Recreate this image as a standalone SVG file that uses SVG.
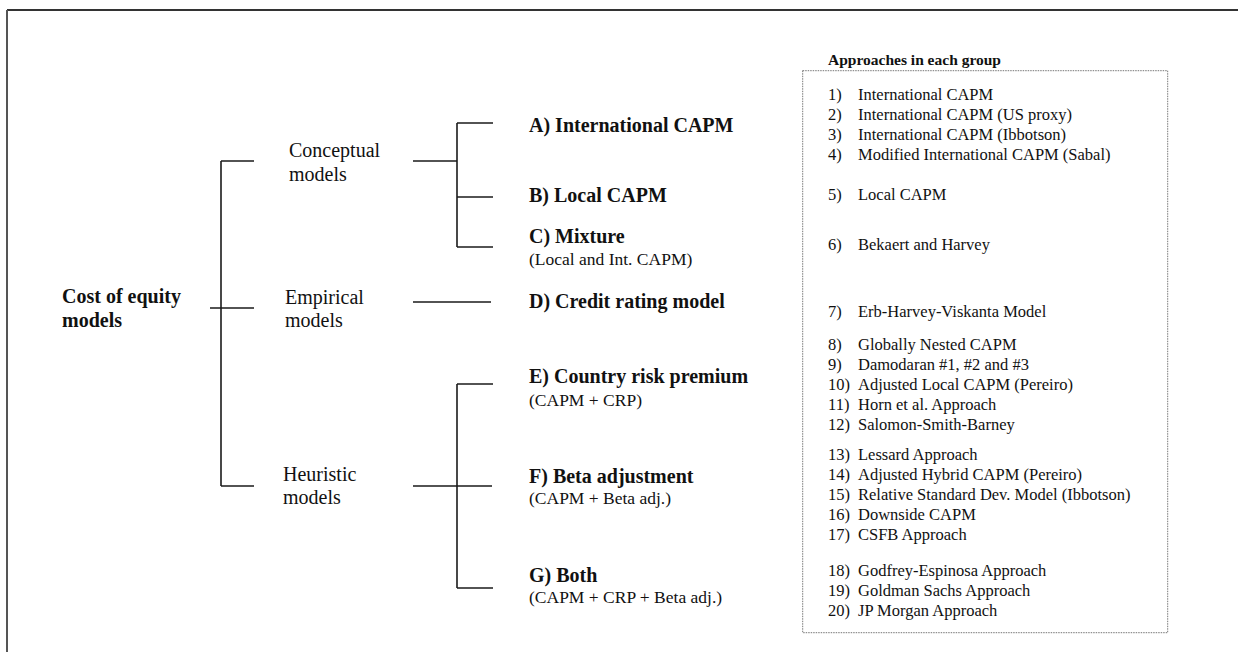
<svg xmlns="http://www.w3.org/2000/svg" width="1238" height="652" viewBox="0 0 1238 652">
<style>
  text { font-family: "Liberation Serif", "Times New Roman", serif; fill: #111; }
  .root { font-size: 20px; font-weight: bold; }
  .grp { font-size: 20px; }
  .lbl { font-size: 20px; font-weight: bold; }
  .sub { font-size: 17.5px; }
  .hdr { font-size: 15.5px; font-weight: bold; }
  .item { font-size: 16.5px; }
  .conn line { stroke: #1a1a1a; stroke-width: 1.6; fill: none; }
</style>
<rect x="0" y="0" width="1238" height="652" fill="#ffffff"/>
<g id="frame">
  <line x1="7" y1="10" x2="1238" y2="10" stroke="#333" stroke-width="2"/>
  <line x1="7" y1="10" x2="7" y2="652" stroke="#555" stroke-width="2"/>
</g>
<g class="conn" id="connectors">
  <line x1="221" y1="161" x2="221" y2="486"/>
  <line x1="221" y1="161" x2="254" y2="161"/>
  <line x1="210" y1="308" x2="254" y2="308"/>
  <line x1="221" y1="486" x2="254" y2="486"/>
  <line x1="413" y1="161" x2="457" y2="161"/>
  <line x1="457" y1="123" x2="457" y2="247"/>
  <line x1="457" y1="123" x2="493" y2="123"/>
  <line x1="457" y1="197" x2="493" y2="197"/>
  <line x1="457" y1="247" x2="493" y2="247"/>
  <line x1="413" y1="302" x2="491" y2="302"/>
  <line x1="413" y1="486" x2="492" y2="486"/>
  <line x1="457" y1="384" x2="457" y2="588"/>
  <line x1="457" y1="384" x2="493" y2="384"/>
  <line x1="457" y1="588" x2="493" y2="588"/>
</g>
<g id="root">
  <text class="root" x="62" y="303">Cost of equity</text>
  <text class="root" x="62" y="327">models</text>
</g>
<g id="conceptual">
  <text class="grp" x="289" y="157">Conceptual</text>
  <text class="grp" x="289" y="181">models</text>
</g>
<g id="empirical">
  <text class="grp" x="285" y="304">Empirical</text>
  <text class="grp" x="285" y="327">models</text>
</g>
<g id="heuristic">
  <text class="grp" x="283" y="481">Heuristic</text>
  <text class="grp" x="283" y="504">models</text>
</g>
<g id="nodeA"><text class="lbl" x="529" y="132">A) International CAPM</text></g>
<g id="nodeB"><text class="lbl" x="529" y="202">B) Local CAPM</text></g>
<g id="nodeC">
  <text class="lbl" x="529" y="243">C) Mixture</text>
  <text class="sub" x="529" y="265">(Local and Int. CAPM)</text>
</g>
<g id="nodeD"><text class="lbl" x="529" y="308">D) Credit rating model</text></g>
<g id="nodeE">
  <text class="lbl" x="529" y="383">E) Country  risk premium</text>
  <text class="sub" x="529" y="406">(CAPM + CRP)</text>
</g>
<g id="nodeF">
  <text class="lbl" x="529" y="483">F) Beta adjustment</text>
  <text class="sub" x="529" y="504">(CAPM + Beta adj.)</text>
</g>
<g id="nodeG">
  <text class="lbl" x="529" y="582">G) Both</text>
  <text class="sub" x="529" y="603">(CAPM + CRP + Beta adj.)</text>
</g>
<g id="approaches">
  <text class="hdr" x="828" y="65">Approaches in each group</text>
  <rect x="802.7" y="70.7" width="365" height="562" fill="none" stroke="#777" stroke-width="1" stroke-dasharray="1.5 1"/>
  <g class="item">
    <text x="828" y="100">1)</text><text x="858" y="100">International CAPM</text>
    <text x="828" y="120">2)</text><text x="858" y="120">International CAPM (US proxy)</text>
    <text x="828" y="140">3)</text><text x="858" y="140">International CAPM (Ibbotson)</text>
    <text x="828" y="160">4)</text><text x="858" y="160">Modified International CAPM (Sabal)</text>
    <text x="828" y="200">5)</text><text x="858" y="200">Local CAPM</text>
    <text x="828" y="250">6)</text><text x="858" y="250">Bekaert and Harvey</text>
    <text x="828" y="317">7)</text><text x="858" y="317">Erb-Harvey-Viskanta Model</text>
    <text x="828" y="350">8)</text><text x="858" y="350">Globally Nested CAPM</text>
    <text x="828" y="370">9)</text><text x="858" y="370">Damodaran #1, #2 and #3</text>
    <text x="828" y="390">10)</text><text x="858" y="390">Adjusted Local CAPM (Pereiro)</text>
    <text x="828" y="410">11)</text><text x="858" y="410">Horn et al. Approach</text>
    <text x="828" y="430">12)</text><text x="858" y="430">Salomon-Smith-Barney</text>
    <text x="828" y="460">13)</text><text x="858" y="460">Lessard Approach</text>
    <text x="828" y="480">14)</text><text x="858" y="480">Adjusted Hybrid CAPM (Pereiro)</text>
    <text x="828" y="500">15)</text><text x="858" y="500">Relative Standard Dev. Model (Ibbotson)</text>
    <text x="828" y="520">16)</text><text x="858" y="520">Downside CAPM</text>
    <text x="828" y="540">17)</text><text x="858" y="540">CSFB Approach</text>
    <text x="828" y="576">18)</text><text x="858" y="576">Godfrey-Espinosa Approach</text>
    <text x="828" y="596">19)</text><text x="858" y="596">Goldman Sachs Approach</text>
    <text x="828" y="616">20)</text><text x="858" y="616">JP Morgan Approach</text>
  </g>
</g>
</svg>
